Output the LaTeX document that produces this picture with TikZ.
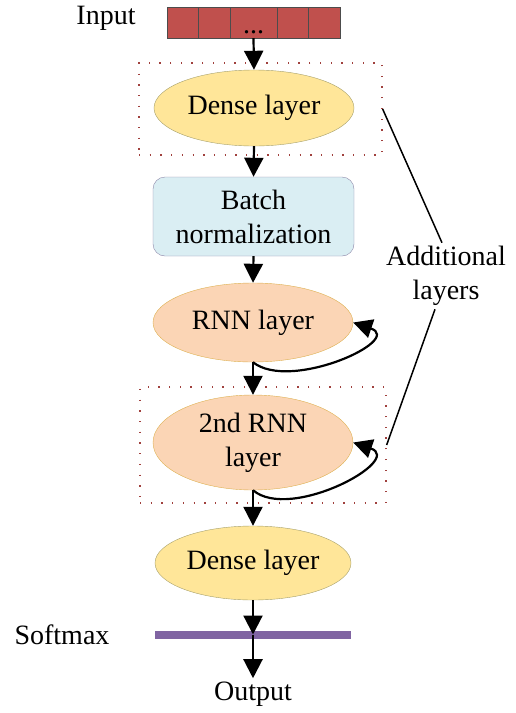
\documentclass[tikz,border=0pt]{standalone}
\usepackage{fontspec}
\setmainfont{Liberation Serif}
\usetikzlibrary{arrows.meta,shapes.geometric}
\definecolor{inred}{HTML}{C0504D}
\definecolor{densefill}{HTML}{FFE699}
\definecolor{denseline}{HTML}{A6A06B}
\definecolor{normfill}{HTML}{DAEEF3}
\definecolor{normline}{HTML}{8C86A8}
\definecolor{rnnfill}{HTML}{FBD5B5}
\definecolor{rnnline}{HTML}{DDB050}
\definecolor{smaxcol}{HTML}{8064A2}
\definecolor{dotcol}{HTML}{A0403D}

\begin{document}
\begin{tikzpicture}[x=1pt,y=-1pt,
		every node/.style={font=\fontsize{28}{34}\selectfont},
		cell/.style={draw=black!70,fill=inred,minimum height=31pt,inner sep=0pt},
		denseblock/.style={ellipse,draw=denseline,fill=densefill,minimum width=200pt,minimum height=76pt,inner sep=0pt},
		normblock/.style={draw=normline,fill=normfill,rounded corners=12pt,minimum width=201pt,minimum height=79pt,inner sep=0pt,align=center},
		rnnblock/.style={ellipse,draw=rnnline,fill=rnnfill,minimum width=200pt,inner sep=0pt,align=center},
		dotbox/.style={draw=dotcol,line width=1.3pt,dash pattern=on 1.3pt off 9.4pt},
		arr/.style={line width=2.2pt,-{Triangle[width=19pt,length=19pt]}}]
			\useasboundingbox (0,0) rectangle (516,713);
			% input
			\node (input) at (106,18) {Input};
			\node[cell,minimum width=31pt] (c1) at (182.5,22.5) {};
			\node[cell,minimum width=32pt] (c2) at (214,22.5) {};
			\node[cell,minimum width=47pt] (c3) at (253.5,22.5) {};
			\node[cell,minimum width=31pt] (c4) at (292.5,22.5) {};
			\node[cell,minimum width=32pt] (c5) at (324,22.5) {};
			\node[anchor=base,inner sep=0pt] (dots) at (253.5,33) {...};
			% dotted groups
			\node[dotbox,minimum width=243pt,minimum height=92pt] (box1) at (260.5,109) {};
			\node[dotbox,minimum width=246pt,minimum height=116pt] (box2) at (263,445) {};
			% layers
			\node[denseblock] (dense1) at (254,108) {Dense layer};
			\node[normblock] (norm) at (253.5,216.5) {Batch\\normalization};
			\node[rnnblock,minimum height=79pt] (rnn1) at (253,322.5) {RNN layer};
			\node[rnnblock,minimum height=95pt] (rnn2) at (253,442.5) {2nd RNN\\layer};
			\node[denseblock,minimum width=196pt,minimum height=74pt] (dense2) at (253,563) {Dense layer};
			\node[fill=smaxcol,minimum width=196pt,minimum height=8pt,inner sep=0pt] (smax) at (253,634.5) {};
			\node (softmax) at (62,635) {Softmax};
			\node (output) at (253,694) {Output};
			\node[align=center] (add) at (446,276) {Additional\\layers};
			% connectors
			\draw[arr] (c3.south) -- (dense1.north);
			\draw[arr] (dense1.south) -- (norm.north);
			\draw[arr] (norm.south) -- (rnn1.north);
			\draw[arr] (rnn1.south) -- (rnn2.north);
			\draw[arr] (rnn2.south) -- (dense2.north);
			\draw[arr] (dense2.south) -- (smax.center);
			\draw[arr] (smax.center) -- (output.north);
			\draw[arr] (rnn1.south) .. controls (290,392) and (405,340) .. (rnn1.east);
			\draw[arr] (rnn2.south) .. controls (290,522) and (405,460) .. (rnn2.east);
			\draw[line width=1.5pt] (box1.east) -- ([xshift=-4pt]add.north);
			\draw[line width=1.5pt] (box2.east) -- ([xshift=-11pt]add.south);
		\end{tikzpicture}
\end{document}
